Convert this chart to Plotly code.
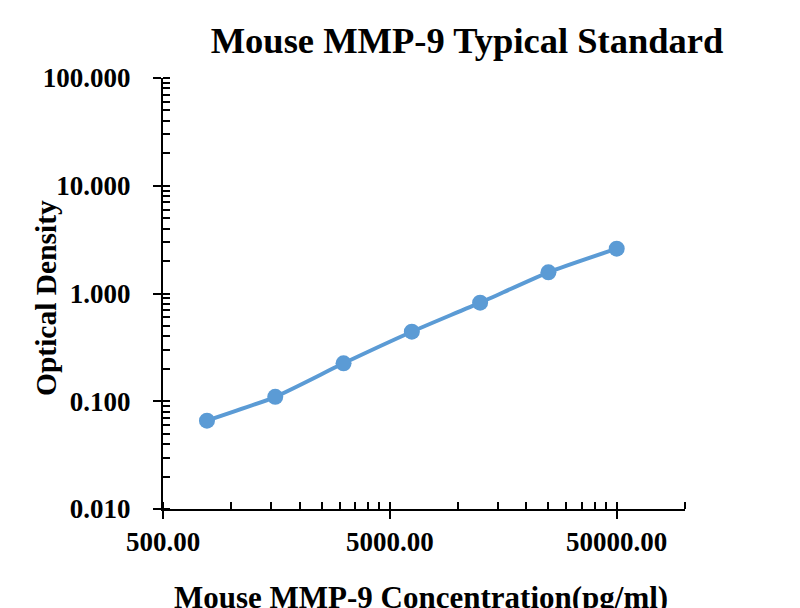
import plotly.graph_objects as go

# standard curve readings
concentration = [781.25, 1562.5, 3125, 6250, 12500, 25000, 50000]
optical_density = [0.066, 0.110, 0.225, 0.442, 0.822, 1.573, 2.606]

x_major = [500, 5000, 50000]
x_major_text = ["500.00", "5000.00", "50000.00"]
x_minor = [500 * k for k in range(1, 10)] + [5000 * k for k in range(1, 10)] + [50000, 100000]

y_major = [0.01, 0.1, 1, 10, 100]
y_major_text = ["0.010", "0.100", "1.000", "10.000", "100.000"]
y_minor = [m * 10 ** e for e in (-2, -1, 0, 1) for m in range(1, 10)] + [100]

font_family = "Liberation Serif"

# page is drawn with an 8px body offset, so margins are shifted to compensate
fig = go.Figure()
fig.add_trace(
    go.Scatter(
        x=concentration,
        y=optical_density,
        mode="lines+markers",
        line=dict(color="#5B9BD5", width=4, shape="spline", smoothing=0.6),
        marker=dict(color="#5B9BD5", size=16),
        showlegend=False,
    )
)

axis_common = dict(
    showgrid=False,
    zeroline=False,
    showline=True,
    linecolor="black",
    linewidth=2,
    ticks="outside",
    ticklen=8,
    tickwidth=2,
    tickcolor="black",
    tickfont=dict(family=font_family, size=27, color="black", weight="bold"),
)

fig.update_xaxes(
    type="log",
    range=[2.69897, 5.0],
    tickmode="array",
    tickvals=x_major,
    ticktext=x_major_text,
    minor=dict(tickmode="array", tickvals=x_minor, ticks="inside", ticklen=7,
               tickwidth=2, tickcolor="black"),
    **axis_common,
)
fig.update_yaxes(
    type="log",
    range=[-2, 2],
    tickmode="array",
    tickvals=y_major,
    ticktext=y_major_text,
    ticklabelstandoff=17,
    minor=dict(tickmode="array", tickvals=y_minor, ticks="inside", ticklen=7,
               tickwidth=2, tickcolor="black"),
    **axis_common,
)

fig.update_layout(
    width=800,
    height=608,
    margin=dict(l=155, r=123, t=70, b=107),
    plot_bgcolor="white",
    paper_bgcolor="white",
    title=dict(
        text="Mouse MMP-9 Typical Standard",
        x=(467 - 8) / 800,
        xref="container",
        xanchor="center",
        y=1 - 32 / 608,
        yref="container",
        yanchor="middle",
        font=dict(family=font_family, size=36.5, color="black", weight="bold"),
    ),
    annotations=[
        dict(
            text="Optical Density",
            xref="paper", yref="paper",
            x=-(163 - 46) / 522, y=(509 - 298) / 431,
            xanchor="center", yanchor="middle",
            textangle=-90,
            showarrow=False,
            font=dict(family=font_family, size=29.5, color="black", weight="bold"),
        ),
        dict(
            text="Mouse MMP-9 Concentration(pg/ml)",
            xref="paper", yref="paper",
            x=(421 - 163) / 522, y=-(597 - 509) / 431,
            xanchor="center", yanchor="middle",
            showarrow=False,
            font=dict(family=font_family, size=31, color="black", weight="bold"),
        ),
    ],
)

fig.write_html("out.html")
